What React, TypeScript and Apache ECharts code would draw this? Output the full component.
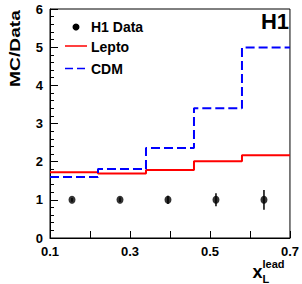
import React, { useEffect, useRef } from "react";
import * as echarts from "echarts";

const binEdges = [0.1, 0.22, 0.34, 0.46, 0.58, 0.7];
const leptoValues = [1.72, 1.69, 1.78, 2.01, 2.17];
const cdmValues = [1.6, 1.81, 2.36, 3.4, 4.99];
const dataX = [0.155, 0.275, 0.395, 0.515, 0.635];
const dataY = [1, 1, 1, 1, 1];
const dataErr = [0.05, 0.06, 0.11, 0.17, 0.26];
const xLabels = ["0.1", "0.3", "0.5", "0.7"];

const FONT = "'Liberation Sans', Arial, Helvetica, sans-serif";

function stepData(values: number[]) {
  const pts = values.map((v, i) => [binEdges[i], v]);
  pts.push([binEdges[binEdges.length - 1], values[values.length - 1]]);
  return pts;
}

export default function App() {
  const ref = useRef<HTMLDivElement>(null);
  useEffect(() => {
    if (!ref.current) return;
    const chart = echarts.init(ref.current, null, { renderer: "svg" });
    const labelStyle = {
      color: "#000",
      fontFamily: FONT,
      fontWeight: "bold" as const,
      fontSize: 13,
    };
    chart.setOption({
      animation: false,
      grid: {
        left: 50,
        right: 12,
        top: 9,
        bottom: 46,
        show: true,
        borderColor: "#000",
        borderWidth: 1,
        backgroundColor: "transparent",
      },
      xAxis: {
        type: "value",
        min: 0.1,
        max: 0.7,
        interval: 0.1,
        axisLine: { show: true, lineStyle: { color: "#000", width: 1 } },
        axisTick: { show: true, inside: true, length: 7, lineStyle: { color: "#000" } },
        splitLine: { show: false },
        axisLabel: {
          ...labelStyle,
          margin: 7,
          formatter: (v: number) => {
            const k = Math.round(v * 10);
            const s = (k / 10).toFixed(1);
            return xLabels.includes(s) ? s : "";
          },
        },
      },
      yAxis: {
        type: "value",
        min: 0,
        max: 6,
        interval: 1,
        axisLine: { show: true, lineStyle: { color: "#000", width: 1 } },
        axisTick: { show: true, inside: true, length: 8, lineStyle: { color: "#000" } },
        minorTick: { show: true, splitNumber: 5, length: 4, lineStyle: { color: "#000" } },
        splitLine: { show: false },
        minorSplitLine: { show: false },
        axisLabel: { ...labelStyle, margin: 7 },
      },
      series: [
        {
          name: "Lepto",
          type: "line",
          step: "end",
          data: stepData(leptoValues),
          symbol: "none",
          lineStyle: { color: "#ff0000", width: 2 },
          z: 3,
        },
        {
          name: "CDM",
          type: "line",
          step: "end",
          data: stepData(cdmValues),
          symbol: "none",
          lineStyle: { color: "#0000ff", width: 2, type: [9, 4] },
          z: 4,
        },
        {
          name: "H1 Data err",
          type: "custom",
          data: dataX.map((x, i) => [x, dataY[i], dataErr[i]]),
          renderItem: (params: any, api: any) => {
            const x = api.value(0);
            const y = api.value(1);
            const e = api.value(2);
            const top = api.coord([x, y + e]);
            const bot = api.coord([x, y - e]);
            return {
              type: "line",
              shape: { x1: top[0], y1: top[1], x2: bot[0], y2: bot[1] },
              style: { stroke: "#000", lineWidth: 1.5 },
            };
          },
          z: 5,
        },
        {
          name: "H1 Data",
          type: "scatter",
          data: dataX.map((x, i) => [x, dataY[i]]),
          symbol: "circle",
          symbolSize: [7, 8],
          itemStyle: { color: "#000" },
          z: 6,
        },
      ],
      graphic: [
        // legend
        { type: "circle", shape: { cx: 76, cy: 27, r: 3.5 }, style: { fill: "#000" } },
        {
          type: "text",
          x: 91,
          y: 27,
          style: { text: "H1 Data", font: `bold 14px ${FONT}`, fill: "#000", align: "left", verticalAlign: "middle" },
        },
        { type: "line", shape: { x1: 65, y1: 46, x2: 87, y2: 46 }, style: { stroke: "#ff0000", lineWidth: 1.5 } },
        {
          type: "text",
          x: 91,
          y: 46.5,
          style: { text: "Lepto", font: `bold 14px ${FONT}`, fill: "#000", align: "left", verticalAlign: "middle" },
        },
        {
          type: "line",
          shape: { x1: 65, y1: 68.5, x2: 87, y2: 68.5 },
          style: { stroke: "#0000ff", lineWidth: 1.5, lineDash: [8, 4] },
        },
        {
          type: "text",
          x: 91,
          y: 68.5,
          style: { text: "CDM", font: `bold 14px ${FONT}`, fill: "#000", align: "left", verticalAlign: "middle" },
        },
        // H1 label
        {
          type: "text",
          x: 289,
          y: 21,
          style: { text: "H1", font: `bold 22px ${FONT}`, fill: "#000", align: "right", verticalAlign: "middle" },
        },
        // y axis title
        {
          type: "text",
          x: 15,
          y: 48.5,
          rotation: Math.PI / 2,
          scaleX: 1.28,
          style: { text: "MC/Data", font: `bold 15px ${FONT}`, fill: "#000", align: "center", verticalAlign: "middle" },
        },
        // x axis title
        {
          type: "text",
          x: 252.5,
          y: 271.5,
          style: { text: "x", font: `bold 18px ${FONT}`, fill: "#000", align: "left", verticalAlign: "middle" },
        },
        {
          type: "text",
          x: 262.5,
          y: 264,
          style: { text: "lead", font: `bold 11px ${FONT}`, fill: "#000", align: "left", verticalAlign: "middle" },
        },
        {
          type: "text",
          x: 262.5,
          y: 278.5,
          style: { text: "L", font: `bold 11px ${FONT}`, fill: "#000", align: "left", verticalAlign: "middle" },
        },
      ],
    });
    return () => chart.dispose();
  }, []);
  return (
    <div
      ref={ref}
      style={{ position: "fixed", left: 0, top: 0, width: 302, height: 284, background: "#fff" }}
    />
  );
}
